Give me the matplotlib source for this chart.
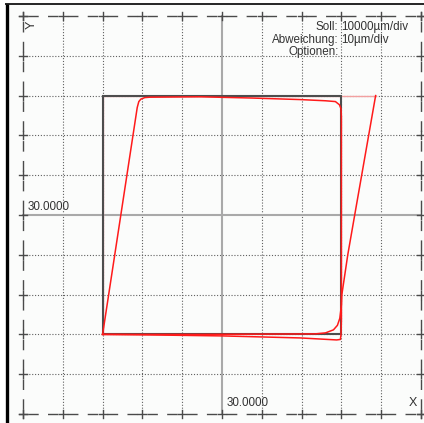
import matplotlib
matplotlib.use("Agg")
import matplotlib.pyplot as plt
from matplotlib.lines import Line2D

plt.rcParams['font.family'] = ['Liberation Sans', 'DejaVu Sans']

# Scale: 10 mm (10000 µm) per division, view centred on 30.0000 / 30.0000
CENTER_X = 30.0
CENTER_Y = 30.0
DIV = 10.0
N_HALF = 5

# Nominal (Soll) square path in mm
SOLL_X = [0, 60, 60, 0, 0]
SOLL_Y = [0, 0, 60, 60, 0]

# Measured path, deviation shown magnified (10 µm/div)
RUN1_X = [0, 11.85, 30.0, 49.7, 58.8, 59.75, 59.9, 60.0, 60.0, 60.0, 59.9, 59.5,
          58.5, 56.0, 49.7, 37.1, 24.5, 11.85, 10.6, 9.6, 9.1, 8.7, 0]
RUN1_Y = [0, -0.13, -0.38, -0.89, -1.39, -1.27, 0, 3.5, 33.9, 54.7, 56.7, 57.7,
          58.5, 58.7, 59.0, 59.4, 59.7, 59.6, 59.5, 59.1, 58.5, 57.0, 0]

RUN2_X = [0, 24.5, 53.4, 56.0, 58.0, 59.0, 59.6, 60.0, 60.1, 61.6, 63.5, 68.6]
RUN2_Y = [0, 0, 0.13, 0.38, 1.14, 2.28, 4.05, 7.34, 9.9, 20.0, 30.9, 60.0]

RETURN_X = [68.6, 60.0, 0, 0]
RETURN_Y = [60.0, 60.0, 60.0, 0]

INFO_KEYS = ["Soll:", "Abweichung:", "Optionen:"]
INFO_VALUES = ["10000µm/div", "10µm/div", ""]
CENTER_LABEL = "30.0000"

W, H = 424, 423
fig = plt.figure(figsize=(W / 100, H / 100), dpi=100)
fig.patch.set_facecolor('white')

# panel background and sunken frame
bg = plt.Rectangle((6 / W, 0), 1 - 6 / W, 1 - 5 / H, transform=fig.transFigure,
                   facecolor='#fbfcfb', edgecolor='none', zorder=-5)
fig.add_artist(bg)
fig.add_artist(Line2D([6.5 / W, 6.5 / W], [0, 1 - 4.5 / H], transform=fig.transFigure,
                      color='black', lw=2.4, solid_capstyle='butt', zorder=10))
fig.add_artist(Line2D([5 / W, 1], [1 - 4.5 / H, 1 - 4.5 / H], transform=fig.transFigure,
                      color='black', lw=1.2, solid_capstyle='butt', zorder=10))

left, right = 23 / W, 421 / W
top, bottom = 1 - 16 / H, 1 - 414 / H
ax = fig.add_axes([left, bottom, right - left, top - bottom])
ax.set_zorder(2)
ax.patch.set_visible(False)
x0, x1 = CENTER_X - N_HALF * DIV, CENTER_X + N_HALF * DIV
y0, y1 = CENTER_Y - N_HALF * DIV, CENTER_Y + N_HALF * DIV
ax.set_xlim(x0, x1)
ax.set_ylim(y0, y1)
for s in ax.spines.values():
    s.set_visible(False)
ax.set_xticks([])
ax.set_yticks([])

grid_col = '#606060'
# dotted inner grid
for i in range(1, 2 * N_HALF):
    v = x0 + i * DIV
    if abs(v - CENTER_X) < 1e-9:
        continue
    ax.plot([v, v], [y0, y1], color=grid_col, lw=0.8, ls=(0, (1, 1.6)), zorder=1, clip_on=False)
for i in range(1, 2 * N_HALF):
    v = y0 + i * DIV
    if abs(v - CENTER_Y) < 1e-9:
        continue
    ax.plot([x0, x1], [v, v], color=grid_col, lw=0.8, ls=(0, (1, 1.6)), zorder=1, clip_on=False)

# centre axes
ax.plot([CENTER_X, CENTER_X], [y0, y1], color='#a9a9a9', lw=1.5, zorder=1.5, clip_on=False)
ax.plot([x0, x1], [CENTER_Y, CENTER_Y], color='#a9a9a9', lw=1.5, zorder=1.5, clip_on=False)

# dashed border with crosses at every division
dash, gap = 7.6, 6.7
bstyle = (dash + gap / 2, (dash, gap))
for xs, ys in [([x0, x1], [y0, y0]), ([x0, x1], [y1, y1]),
               ([x0, x0], [y0, y1]), ([x1, x1], [y0, y1])]:
    ax.plot(xs, ys, color='#4a4a4a', lw=1.0, ls=bstyle, zorder=2, clip_on=False)
t = 1.0  # half tick length in mm (~4 px)
for i in range(0, 2 * N_HALF + 1):
    v = x0 + i * DIV
    for yy in (y0, y1):
        ax.plot([v, v], [yy - t, yy + t], color='#4a4a4a', lw=1.0, zorder=2, clip_on=False)
        ax.plot([v - t, v + t], [yy, yy], color='#4a4a4a', lw=1.0, zorder=2, clip_on=False)
    v = y0 + i * DIV
    for xx in (x0, x1):
        ax.plot([xx - t, xx + t], [v, v], color='#4a4a4a', lw=1.0, zorder=2, clip_on=False)
        ax.plot([xx, xx], [v - t, v + t], color='#4a4a4a', lw=1.0, zorder=2, clip_on=False)

# return trace (faint) under the nominal square
ax.plot(RETURN_X, RETURN_Y, color='#f2a0a0', lw=1.0, zorder=3)
# nominal path
ax.plot(SOLL_X, SOLL_Y, color='#4d4d4d', lw=1.5, zorder=4, solid_joinstyle='miter')
# measured path
ax.plot(RUN1_X, RUN1_Y, color='#ff1a1a', lw=1.1, zorder=5)
ax.plot(RUN2_X, RUN2_Y, color='#ff1a1a', lw=1.1, zorder=5)

# axis letters and centre values
txt_col = '#333333'
fs = 8.4
ax.text(x0 + 2.2, y1 - 2.2, "Y", rotation=90, ha='center', va='center',
        fontsize=9, color=txt_col)
ax.text(x1 - 2.0, y0 + 2.8, "X", ha='center', va='center', fontsize=9, color=txt_col)
ax.text(x0 + 1.2, CENTER_Y + 0.5, CENTER_LABEL, ha='left', va='bottom',
        fontsize=fs, color=txt_col)
ax.text(CENTER_X + 1.2, y0 + 2.8, CENTER_LABEL, ha='left', va='center',
        fontsize=fs, color=txt_col)

# scale info block, aligned on the colons
kx = CENTER_X + 29.3
for i, (k, v) in enumerate(zip(INFO_KEYS, INFO_VALUES)):
    yy = y1 - 2.8 - i * 3.15
    ax.text(kx, yy, k, ha='right', va='center', fontsize=fs, color=txt_col)
    if v:
        ax.text(kx + 0.6, yy, v, ha='left', va='center', fontsize=fs, color=txt_col)

fig.savefig("out.png", dpi=100)
